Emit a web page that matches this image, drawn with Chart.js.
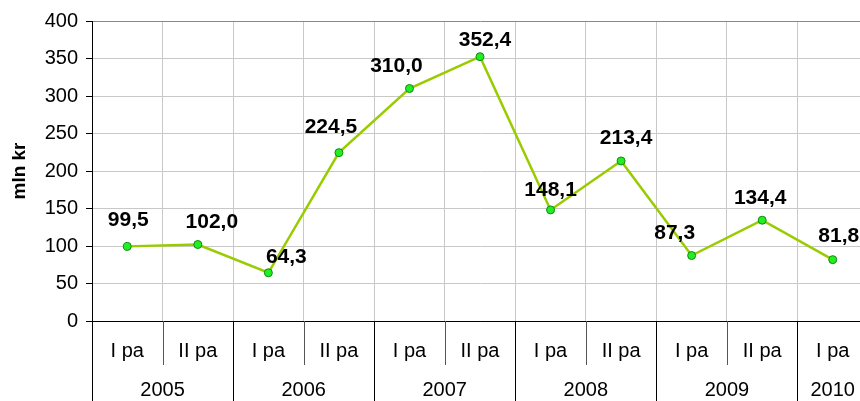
<!DOCTYPE html>
<html>
<head>
<meta charset="utf-8">
<script src="https://cdn.jsdelivr.net/npm/chart.js@4"></script>
<style>
  html, body { margin: 0; padding: 0; overflow: hidden; background: #fff; }
  #wrap { width: 880px; height: 401px; }
</style>
</head>
<body>
<div id="wrap"><canvas id="incomeChart"></canvas></div>
<script>
// data
const periods = ['I pa', 'II pa', 'I pa', 'II pa', 'I pa', 'II pa', 'I pa', 'II pa', 'I pa', 'II pa', 'I pa'];
const periodYears = ['2005', '2005', '2006', '2006', '2007', '2007', '2008', '2008', '2009', '2009', '2010'];
const values = [99.5, 102.0, 64.3, 224.5, 310.0, 352.4, 148.1, 213.4, 87.3, 134.4, 81.8];
const yTicks = [0, 50, 100, 150, 200, 250, 300, 350, 400];

// where each value label sits relative to its point (style only)
const labelShift = [[1, -26], [14, -22], [18, -16], [-8, -25], [-13, -22], [5, -16],
  [0, -20], [5, -23], [-17, -22], [-2, -22], [6, -23]];

const fontName = 'Arial, "Liberation Sans", sans-serif';

// value labels above the points
const valueLabels = {
  id: 'valueLabels',
  afterDatasetsDraw(chart) {
    const c = chart.ctx;
    const meta = chart.getDatasetMeta(0);
    c.save();
    c.font = 'bold 21px ' + fontName;
    c.fillStyle = '#000';
    c.textAlign = 'center';
    c.textBaseline = 'middle';
    meta.data.forEach((pt, i) => {
      const txt = values[i].toFixed(1).replace('.', ',');
      c.fillText(txt, pt.x + labelShift[i][0], pt.y + labelShift[i][1]);
    });
    c.restore();
  }
};

// year row and separator lines under the x axis
const yearRow = {
  id: 'yearRow',
  afterDraw(chart) {
    const c = chart.ctx;
    const x = chart.scales.x;
    const area = chart.chartArea;
    const w = (x.right - x.left) / periods.length;
    c.save();
    c.lineWidth = 1;
    for (let i = 0; i < periods.length; i++) {
      const bx = Math.round(x.left + i * w) + 0.5;
      const newYear = i === 0 || periodYears[i] !== periodYears[i - 1];
      c.strokeStyle = newYear ? '#000' : '#555';
      c.beginPath();
      c.moveTo(bx, area.bottom);
      c.lineTo(bx, newYear ? chart.height : area.bottom + 44);
      c.stroke();
    }
    c.font = '20px ' + fontName;
    c.fillStyle = '#000';
    c.textAlign = 'center';
    c.textBaseline = 'middle';
    let start = 0;
    for (let i = 1; i <= periods.length; i++) {
      if (i === periods.length || periodYears[i] !== periodYears[start]) {
        const cx = x.left + (start + i) / 2 * w;
        c.fillText(periodYears[start], cx, 390);
        start = i;
      }
    }
    c.restore();
  }
};

const ctx = document.getElementById('incomeChart').getContext('2d');
const incomeChart = new Chart(ctx, {
  type: 'line',
  data: {
    labels: periods,
    datasets: [{
      data: values,
      borderColor: '#99cc00',
      borderWidth: 2.5,
      pointRadius: 4,
      pointBackgroundColor: '#22ee22',
      pointBorderColor: '#118811',
      pointBorderWidth: 1,
      tension: 0,
      clip: false
    }]
  },
  options: {
    responsive: true,
    maintainAspectRatio: false,
    animation: false,
    layout: { padding: { top: 21, right: 12, left: 0, bottom: 0 } },
    plugins: { legend: { display: false }, tooltip: { enabled: false } },
    scales: {
      x: {
        offset: true,
        grid: { offset: true, color: '#c8c8c8', drawTicks: false },
        border: { color: '#000' },
        ticks: { font: { family: fontName, size: 20 }, color: '#000', padding: 18, autoSkip: false, maxRotation: 0 },
        afterFit: s => { s.height = 80; }
      },
      y: {
        min: 0,
        max: 400,
        afterBuildTicks: s => { s.ticks = yTicks.map(v => ({ value: v })); },
        ticks: { font: { family: fontName, size: 20 }, color: '#000', padding: 8 },
        grid: {
          color: g => g.tick.value === 0 ? '#000' : (g.tick.value === 400 ? '#888' : '#c8c8c8'),
          tickColor: '#000',
          tickLength: 6
        },
        border: { color: '#000' },
        title: { display: true, text: 'mln kr', font: { family: fontName, size: 19, weight: 'bold' }, color: '#000', padding: { top: 8 } },
        afterFit: s => { s.width = 92; }
      }
    }
  },
  plugins: [valueLabels, yearRow]
});
</script>
</body>
</html>
